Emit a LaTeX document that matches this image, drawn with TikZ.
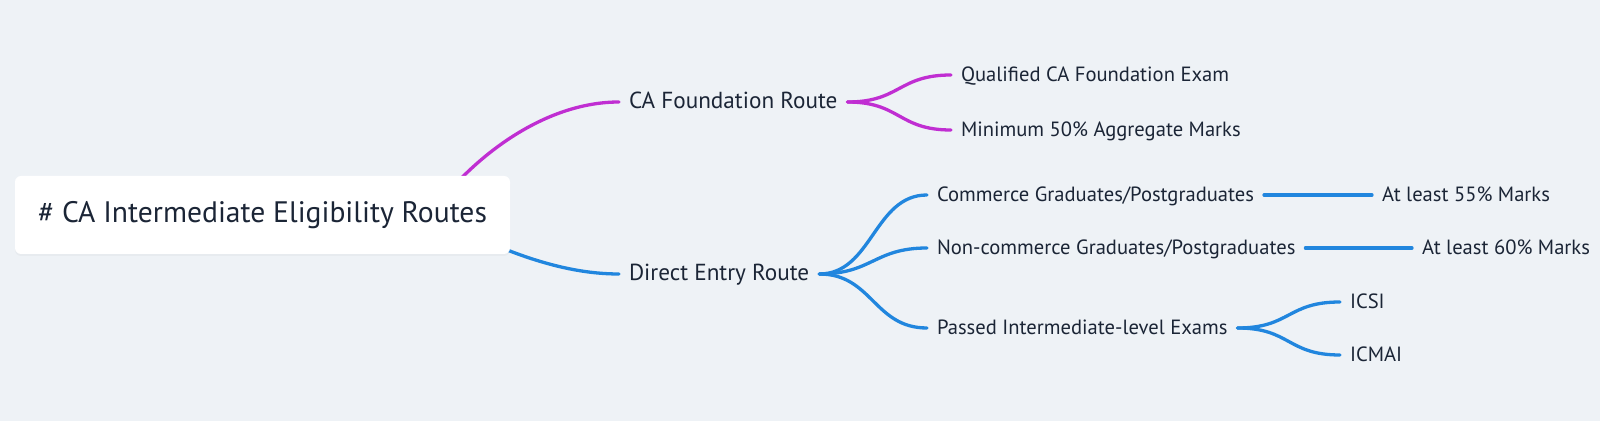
\documentclass[tikz,border=0pt]{standalone}
\usepackage{fontspec}
\setmainfont{PT Sans}
\usetikzlibrary{
    backgrounds,
    positioning,
    shadows
}
\definecolor{bgcol}{HTML}{EEF2F6}
\definecolor{inkcol}{HTML}{1B2536}
\definecolor{magcol}{HTML}{C02ED2}
\definecolor{bluecol}{HTML}{2186DE}
\tikzset{
    every picture/.style = {
        x = 0.5pt,
        y = -0.5pt
    },
    every node/.style = {
        inner sep = 0pt,
        outer sep = 0pt,
        text = inkcol,
        anchor = west
    },
    rootbox/.style = {
        anchor = center,
        fill = white,
        rounded corners = 3pt,
        minimum width = 247.5pt,
        minimum height = 39pt,
        drop shadow = {opacity = 0.06, shadow xshift = 0pt, shadow yshift = -1pt},
        font = \fontsize{14.8}{17}\selectfont
    },
    lvlone/.style = {
        inner xsep = 5pt,
        text height = 1.6ex,
        text depth = 0.2ex,
        font = \fontsize{11.6}{13}\selectfont
    },
    lvltwo/.style = {
        inner xsep = 5pt,
        text height = 1.6ex,
        text depth = 0.2ex,
        font = \fontsize{10.3}{12}\selectfont
    },
    branch/.style = {
        line width = 1.65pt,
        line cap = round
    },
    mag/.style = {branch, draw = magcol},
    blu/.style = {branch, draw = bluecol},
    fork/.style = {
        to path = {.. controls +(53,0) and +(-53,0) .. (\tikztotarget)}
    }
}

\begin{document}
\begin{tikzpicture}
    \useasboundingbox (0, 0) rectangle (1600, 421);

    \node[rootbox] (root) at (262.5, 215) {\# CA Intermediate Eligibility Routes};

    \node[lvlone] (cafound) at (619, 102) {CA Foundation Route};
    \node[lvlone] (direct) at (619, 274) {Direct Entry Route};

    \node[lvltwo] (qualified) at (951, 75) {Qualified CA Foundation Exam};
    \node[lvltwo] (minimum) at (951, 130) {Minimum 50\% Aggregate Marks};

    \node[lvltwo] (commerce) at (927, 195) {Commerce Graduates/Postgraduates};
    \node[lvltwo] (noncommerce) at (927, 248) {Non-commerce Graduates/Postgraduates};
    \node[lvltwo] (passed) at (927, 328) {Passed Intermediate-level Exams};

    \node[lvltwo] (least55) at (1372, 195) {At least 55\% Marks};
    \node[lvltwo] (least60) at (1412, 248) {At least 60\% Marks};

    \node[lvltwo] (icsi) at (1340, 302) {ICSI};
    \node[lvltwo] (icmai) at (1340, 355) {ICMAI};

    \begin{scope}[on background layer]
        \fill[bgcol] (0, 0) rectangle (1600, 421);

        % root to first level
        \draw[mag] ([xshift = -40pt]root.east) .. controls +(42, -58) and +(-75, 0) .. (cafound.west);
        \draw[blu] ([xshift = -40pt]root.east) .. controls +(70, 35) and +(-60, 0) .. (direct.west);

        \draw[mag] (cafound.east) to[fork] (qualified.west);
        \draw[mag] (cafound.east) to[fork] (minimum.west);

        \draw[blu] (direct.east) to[fork] (commerce.west);
        \draw[blu] (direct.east) to[fork] (noncommerce.west);
        \draw[blu] (direct.east) to[fork] (passed.west);

        \draw[blu] (commerce.east) -- (least55.west);
        \draw[blu] (noncommerce.east) -- (least60.west);

        \draw[blu] (passed.east) to[fork] (icsi.west);
        \draw[blu] (passed.east) to[fork] (icmai.west);
    \end{scope}
\end{tikzpicture}
\end{document}
